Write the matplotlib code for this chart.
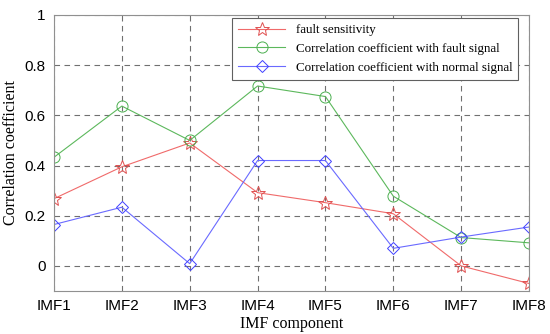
import matplotlib.pyplot as plt

labels = ['IMF1', 'IMF2', 'IMF3', 'IMF4', 'IMF5', 'IMF6', 'IMF7', 'IMF8']
sensitivity = [0.268, 0.395, 0.49, 0.292, 0.252, 0.208, 0.0, -0.07]
corr_fault = [0.433, 0.637, 0.50, 0.717, 0.675, 0.278, 0.113, 0.092]
corr_normal = [0.165, 0.234, 0.009, 0.42, 0.42, 0.07, 0.115, 0.155]

x = list(range(1, len(labels) + 1))

fig = plt.figure(figsize=(5.5, 3.34), dpi=100)
ax = fig.add_axes([54 / 550, 1 - 291 / 334, 475 / 550, 276 / 334])

ax.plot(x, sensitivity, color='#f06a6a', lw=0.8, marker='*', ms=10,
        mfc='none', mec='#e05050', mew=0.7, label='fault sensitivity')
ax.plot(x, corr_fault, color='#5cb85c', lw=0.8, marker='o', ms=8,
        mfc='none', mec='#4caf50', mew=0.7, label='Correlation coefficient with fault signal')
ax.plot(x, corr_normal, color='#6a6aff', lw=0.8, marker='D', ms=6.5,
        mfc='none', mec='#4040ff', mew=0.7, label='Correlation coefficient with normal signal')

ax.set_xlim(1, 8)
ax.set_ylim(-0.1, 1)
ax.set_xticks(x)
ax.set_xticklabels(labels)
ax.set_yticks([0, 0.2, 0.4, 0.6, 0.8, 1])
ax.set_yticklabels(['0', '0.2', '0.4', '0.6', '0.8', '1'])
ax.tick_params(labelsize=11, length=0, pad=6)
for lbl in ax.get_xticklabels() + ax.get_yticklabels():
    lbl.set_family('Liberation Sans')

ax.grid(True, color='#707070', linestyle=(0, (5, 4)), linewidth=0.8)
for s in ax.spines.values():
    s.set_color('#909090')
    s.set_linewidth(0.8)

ax.set_xlabel('IMF component', family='Liberation Serif', fontsize=11.5, labelpad=2)
ax.set_ylabel('Correlation coefficient', family='Liberation Serif', fontsize=11.5, labelpad=4)

leg = ax.legend(loc='upper right', bbox_to_anchor=(0.977, 0.988),
                prop={'family': 'Liberation Serif', 'size': 9.4},
                fancybox=False, framealpha=1, handlelength=3.6,
                borderpad=0.45, labelspacing=0.5, borderaxespad=0)
leg.get_frame().set_edgecolor('#606060')
leg.get_frame().set_linewidth(0.8)

fig.savefig('out.png', dpi=100)
